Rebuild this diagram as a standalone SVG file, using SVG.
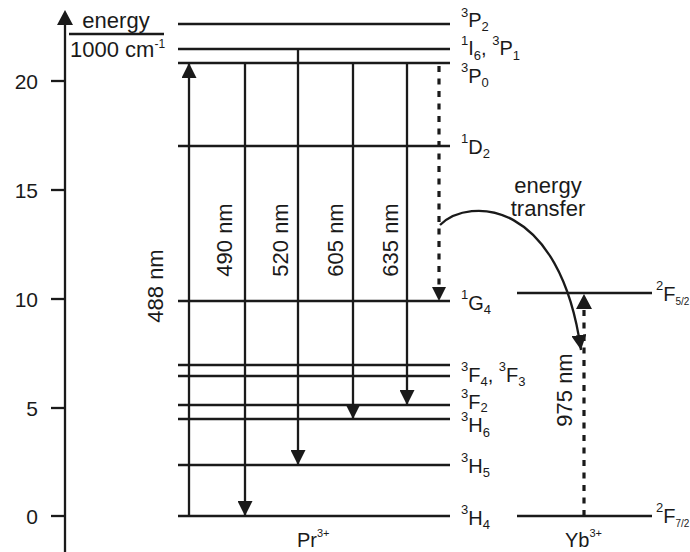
<svg xmlns="http://www.w3.org/2000/svg" width="690" height="552" viewBox="0 0 690 552">
<style>
text{font-family:"Liberation Sans",Arial,Helvetica,sans-serif;fill:#1a1a1a}
.ax{font-size:21px}
.big{font-size:22px}
.lv{font-size:20px}
.s{font-size:13px}
.lvl{stroke:#1a1a1a;stroke-width:2.3;fill:none}
.arr{stroke:#1a1a1a;stroke-width:2.3;fill:none}
.dot{stroke:#1a1a1a;stroke-width:3.2;fill:none;stroke-dasharray:6 6.5}
</style>
<defs>
<marker id="ah" markerUnits="userSpaceOnUse" markerWidth="15" markerHeight="15" viewBox="0 0 15 15" refX="15" refY="7.5" orient="auto">
<path d="M0,0 L15,7.5 L0,15 z" fill="#1a1a1a"/>
</marker>
</defs>
<rect width="690" height="552" fill="#ffffff"/>

<g id="axis">
<line x1="65" y1="552" x2="65" y2="20" stroke="#1a1a1a" stroke-width="2.3"/>
<polygon points="65,10 57,25 73,25" fill="#1a1a1a"/>
<g stroke="#1a1a1a" stroke-width="2.3">
<line x1="51" y1="81" x2="65" y2="81"/>
<line x1="51" y1="190" x2="65" y2="190"/>
<line x1="51" y1="299" x2="65" y2="299"/>
<line x1="51" y1="408" x2="65" y2="408"/>
<line x1="51" y1="516" x2="65" y2="516"/>
</g>
<g class="ax" text-anchor="end">
<text x="38" y="89">20</text>
<text x="38" y="198">15</text>
<text x="38" y="307">10</text>
<text x="38" y="416">5</text>
<text x="38" y="524">0</text>
</g>
<text class="big" x="116" y="28" text-anchor="middle">energy</text>
<line x1="69" y1="34" x2="164" y2="34" stroke="#1a1a1a" stroke-width="2.3"/>
<text class="big" x="70" y="57">1000 cm<tspan font-size="12px" dy="-9">-1</tspan></text>
</g>

<g id="Pr">
<g id="P2"><line class="lvl" x1="178" y1="24" x2="450" y2="24"/><text class="lv" x="461" y="27"><tspan class="s" dy="-10">3</tspan><tspan dy="10">P</tspan><tspan class="s" dy="4">2</tspan></text></g>
<g id="I6P1"><line class="lvl" x1="178" y1="49" x2="450" y2="49"/><text class="lv" x="461" y="55"><tspan class="s" dy="-10">1</tspan><tspan dy="10">I</tspan><tspan class="s" dy="5">6</tspan><tspan dy="-5">, </tspan><tspan class="s" dy="-10">3</tspan><tspan dy="10">P</tspan><tspan class="s" dy="5">1</tspan></text></g>
<g id="P0"><line class="lvl" x1="178" y1="63" x2="450" y2="63"/><text class="lv" x="461" y="83"><tspan class="s" dy="-11">3</tspan><tspan dy="11">P</tspan><tspan class="s" dy="4">0</tspan></text></g>
<g id="D2"><line class="lvl" x1="178" y1="146" x2="450" y2="146"/><text class="lv" x="461" y="154"><tspan class="s" dy="-11">1</tspan><tspan dy="11">D</tspan><tspan class="s" dy="4">2</tspan></text></g>
<g id="G4"><line class="lvl" x1="178" y1="301" x2="450" y2="301"/><text class="lv" x="461" y="310"><tspan class="s" dy="-11">1</tspan><tspan dy="11">G</tspan><tspan class="s" dy="4">4</tspan></text></g>
<g id="F4F3"><line class="lvl" x1="178" y1="365" x2="450" y2="365"/><line class="lvl" x1="178" y1="376" x2="450" y2="376"/><text class="lv" x="461" y="382"><tspan class="s" dy="-11">3</tspan><tspan dy="11">F</tspan><tspan class="s" dy="4">4</tspan><tspan dy="-4">, </tspan><tspan class="s" dy="-11">3</tspan><tspan dy="11">F</tspan><tspan class="s" dy="4">3</tspan></text></g>
<g id="F2"><line class="lvl" x1="178" y1="405" x2="450" y2="405"/><text class="lv" x="461" y="409"><tspan class="s" dy="-11">3</tspan><tspan dy="11">F</tspan><tspan class="s" dy="3">2</tspan></text></g>
<g id="H6"><line class="lvl" x1="178" y1="419" x2="450" y2="419"/><text class="lv" x="461" y="432"><tspan class="s" dy="-11">3</tspan><tspan dy="11">H</tspan><tspan class="s" dy="5">6</tspan></text></g>
<g id="H5"><line class="lvl" x1="178" y1="465" x2="450" y2="465"/><text class="lv" x="461" y="473"><tspan class="s" dy="-11">3</tspan><tspan dy="11">H</tspan><tspan class="s" dy="4">5</tspan></text></g>
<g id="H4"><line class="lvl" x1="178" y1="516" x2="450" y2="516"/><text class="lv" x="461" y="525"><tspan class="s" dy="-11">3</tspan><tspan dy="11">H</tspan><tspan class="s" dy="4">4</tspan></text></g>
<text class="lv" x="297" y="547">Pr<tspan font-size="11px" dy="-10">3+</tspan></text>
</g>

<g id="Yb">
<g id="F52"><line class="lvl" x1="517" y1="293" x2="652" y2="293"/><text class="lv" x="656" y="301"><tspan class="s" dy="-11">2</tspan><tspan dy="11">F</tspan><tspan font-size="10px" dy="4">5/2</tspan></text></g>
<g id="F72"><line class="lvl" x1="517" y1="516" x2="652" y2="516"/><text class="lv" x="656" y="523"><tspan class="s" dy="-11">2</tspan><tspan dy="11">F</tspan><tspan font-size="10px" dy="4">7/2</tspan></text></g>
<text class="lv" x="565" y="547">Yb<tspan font-size="11px" dy="-10">3+</tspan></text>
</g>

<g id="connectors">
<line class="arr" x1="189" y1="516" x2="189" y2="63" marker-end="url(#ah)"/>
<line class="arr" x1="245" y1="63" x2="245" y2="516" marker-end="url(#ah)"/>
<line class="arr" x1="298" y1="49" x2="298" y2="465" marker-end="url(#ah)"/>
<line class="arr" x1="353" y1="63" x2="353" y2="419" marker-end="url(#ah)"/>
<line class="arr" x1="407" y1="63" x2="407" y2="405" marker-end="url(#ah)"/>
<line class="dot" x1="439" y1="66" x2="439" y2="290"/>
<path d="M432,287 L446,287 L439,301 z" fill="#1a1a1a"/>
<line class="dot" x1="584" y1="516" x2="584" y2="306"/>
<path d="M576,309 L592,309 L584,294 z" fill="#1a1a1a"/>
<path class="arr" d="M440,225 C470,196 560,200 581,350" stroke-width="2.6" marker-end="url(#ah)"/>
<g class="big">
<text transform="translate(163,286) rotate(-90)" text-anchor="middle">488 nm</text>
<text transform="translate(232,240) rotate(-90)" text-anchor="middle">490 nm</text>
<text transform="translate(288,240) rotate(-90)" text-anchor="middle">520 nm</text>
<text transform="translate(343,240) rotate(-90)" text-anchor="middle">605 nm</text>
<text transform="translate(398,240) rotate(-90)" text-anchor="middle">635 nm</text>
<text transform="translate(572,390) rotate(-90)" text-anchor="middle">975 nm</text>
<text x="548" y="193" text-anchor="middle">energy</text>
<text x="548" y="216" text-anchor="middle">transfer</text>
</g>
</g>
</svg>
